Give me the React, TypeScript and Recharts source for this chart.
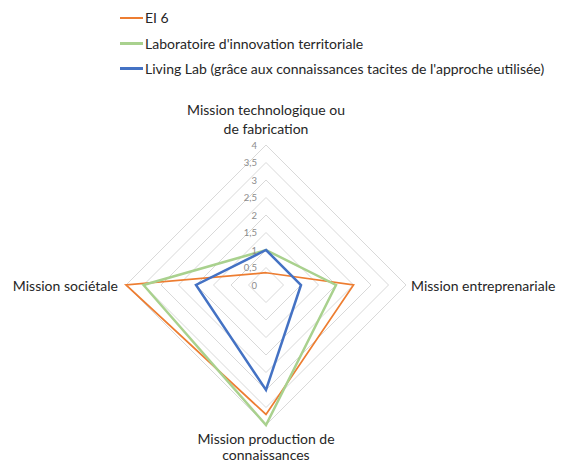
import { Legend, PolarAngleAxis, PolarGrid, PolarRadiusAxis, Radar, RadarChart } from "recharts";

const categories = [
  "Mission technologique ou de fabrication",
  "Mission entreprenariale",
  "Mission production de connaissances",
  "Mission sociétale",
];
const categoryLines = [
  ["Mission technologique ou", "de fabrication"],
  ["Mission entreprenariale"],
  ["Mission production de", "connaissances"],
  ["Mission sociétale"],
];
const ei6 = [0.35, 2.5, 3.7, 4];
const laboratoire = [1, 2, 4, 3.5];
const livingLab = [1, 1, 3, 2];
const radiusTicks = [0, 0.5, 1, 1.5, 2, 2.5, 3, 3.5, 4];

const FONT = "Lato, 'Open Sans', sans-serif";

const data = categories.map((c, i) => ({
  name: c,
  ei6: ei6[i],
  lab: laboratoire[i],
  living: livingLab[i],
}));

function AngleTick(props: any) {
  const { x, y, index } = props;
  const lines = categoryLines[index] ?? [String(props.payload?.value)];
  const style = { fontSize: 14, fill: "#262626", fontFamily: FONT };
  if (index === 0) {
    return (
      <text x={x} y={y} textAnchor="middle" style={style}>
        {lines.map((l, i) => (
          <tspan key={i} x={x} y={y - 28 + i * 19} dominantBaseline="central">
            {l}
          </tspan>
        ))}
      </text>
    );
  }
  if (index === 2) {
    return (
      <text x={x} y={y} textAnchor="middle" style={style}>
        {lines.map((l, i) => (
          <tspan key={i} x={x} y={y + 5 + i * 16} dominantBaseline="central">
            {l}
          </tspan>
        ))}
      </text>
    );
  }
  const right = index === 1;
  return (
    <text
      x={right ? x - 3 : x}
      y={y}
      textAnchor={right ? "start" : "end"}
      dominantBaseline="central"
      style={style}
    >
      {lines[0]}
    </text>
  );
}

function RadiusTick(props: any) {
  const { x, y, payload } = props;
  return (
    <text
      x={x - 9}
      y={y}
      textAnchor="end"
      dominantBaseline="central"
      style={{ fontSize: 9.5, fill: "#8c8c8c", fontFamily: FONT }}
    >
      {String(payload.value).replace(".", ",")}
    </text>
  );
}

function LegendBox(props: any) {
  const items = props.payload ?? [];
  return (
    <div style={{ fontFamily: FONT, fontSize: 14, color: "#262626" }}>
      {items.map((it: any, i: number) => (
        <div
          key={i}
          style={{ height: 25.5, display: "flex", alignItems: "center", whiteSpace: "nowrap" }}
        >
          <span
            style={{
              display: "inline-block",
              width: 23,
              height: i === 0 ? 2 : 3,
              background: it.color,
              marginRight: 2,
            }}
          />
          {it.value}
        </div>
      ))}
    </div>
  );
}

export default function App() {
  return (
    <div style={{ position: "absolute", top: 8, left: 8, width: 554, height: 455 }}>
      <RadarChart width={554} height={455} data={data} cx={258} cy={277} outerRadius={140}>
        <PolarGrid stroke="#d9d9d9" radialLines={false} gridType="polygon" />
        <PolarAngleAxis
          dataKey="name"
          tick={AngleTick}
          tickLine={false}
          axisLine={false}
        />
        <PolarRadiusAxis
          angle={90}
          domain={[0, 4]}
          ticks={radiusTicks}
          tick={RadiusTick}
          axisLine={false}
          tickLine={false}
        />
        <Radar
          name="EI 6"
          dataKey="ei6"
          stroke="#ED7D31"
          strokeWidth={1.75}
          fill="none"
          fillOpacity={0}
          dot={false}
          isAnimationActive={false}
        />
        <Radar
          name="Laboratoire d'innovation territoriale"
          dataKey="lab"
          stroke="#A9D18E"
          strokeWidth={2.5}
          fill="none"
          fillOpacity={0}
          dot={false}
          isAnimationActive={false}
        />
        <Radar
          name="Living Lab (grâce aux connaissances tacites de l'approche utilisée)"
          dataKey="living"
          stroke="#4472C4"
          strokeWidth={2.5}
          fill="none"
          fillOpacity={0}
          dot={false}
          isAnimationActive={false}
        />
        <Legend
          content={LegendBox}
          wrapperStyle={{ position: "absolute", top: -3, left: 112, width: 442 }}
        />
      </RadarChart>
    </div>
  );
}
